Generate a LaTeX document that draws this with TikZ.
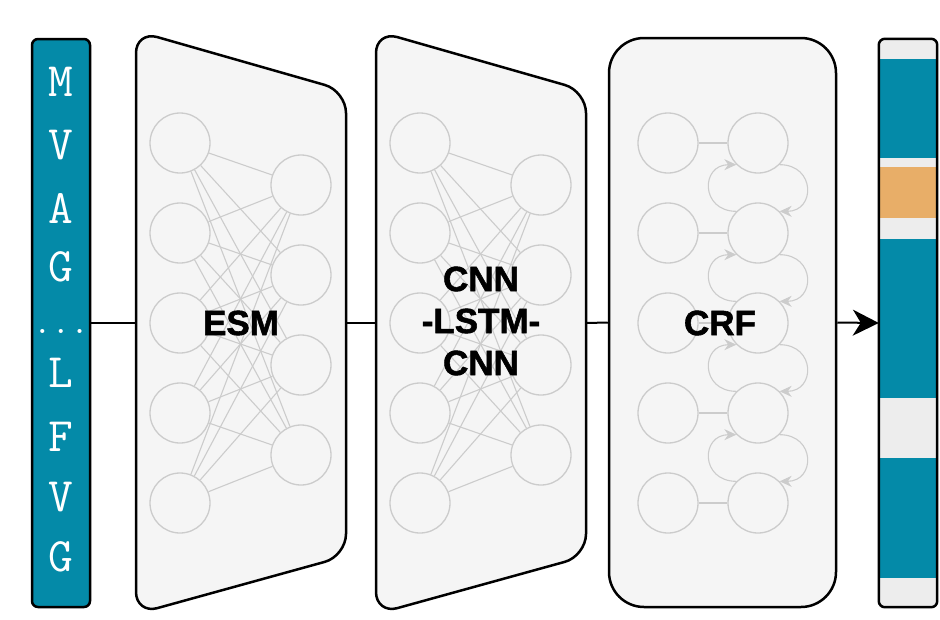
\documentclass[tikz,border=0pt]{standalone}
\usepackage{fontspec}
\newfontfamily\labelfont{Liberation Sans Bold}[FakeBold=1.6]
\usetikzlibrary{arrows.meta}
\definecolor{seqteal}{RGB}{4,138,168}
\definecolor{siteorange}{RGB}{232,174,104}
\definecolor{boxgray}{RGB}{245,245,245}
\definecolor{bargray}{RGB}{237,237,237}
\definecolor{netgray}{RGB}{204,204,204}

\begin{document}
\begin{tikzpicture}[x=1pt,y=-1pt,box/.style={draw=black,line width=2.5pt,fill=boxgray},
neuron/.style={circle,draw=netgray,line width=1.3pt,minimum size=60pt,inner sep=0pt},
syn/.style={draw=netgray,line width=1.1pt},
crfarr/.style={syn,netgray,-{Stealth[length=12pt,width=11pt]}},
link/.style={line width=2pt},
mdl/.style={font=\labelfont\fontsize{35}{42}\selectfont,align=center},
res/.style={text=white,inner sep=0pt,font=\ttfamily\fontsize{48}{48}\selectfont}]
\useasboundingbox (0,0) rectangle (940,619);
% input sequence
\node[draw,fill=seqteal,line width=2.5pt,rounded corners=6pt,minimum width=58pt,minimum height=568pt,inner sep=0pt] (seq) at (61,323) {};
\foreach \y/\ch in %
{82/M,145/V,208/A,267/G,373/L,437/F,497/V,557/G} {
   \node[res] (r\y) at (61,\y) {\ch};
}
\node[res,font=\ttfamily\fontsize{36}{36}\selectfont] (dots) at (61,331) {...};
% ESM and CNN-LSTM-CNN blocks
\draw[box,rounded corners=22pt] (136,31) -- (346,91) -- (346,556) -- (136,614) -- cycle;
\draw[box,rounded corners=22pt] (376,31) -- (586,91) -- (586,556) -- (376,614) -- cycle;
\coordinate (esmL) at (136,323);
\coordinate (esmR) at (346,323);
\coordinate (cnnL) at (376,323);
\coordinate (cnnR) at (586,323);
\foreach \nn/\dx in {e/0,n/240} {
   \foreach \i/\y in {1/143,2/233,3/323,4/413,5/503}
      \node[neuron] (\nn l\i) at (180+\dx,\y) {};
   \foreach \j/\y in {1/185,2/275,3/365,4/455}
      \node[neuron] (\nn r\j) at (301+\dx,\y) {};
   \foreach \i in {1,...,5}
      \foreach \j in {1,...,4}
         \draw[syn] (\nn l\i) -- (\nn r\j);
}
% CRF block
\node[box,rounded corners=35pt,minimum width=227pt,minimum height=569pt] (crf) at (722.5,322.5) {};
\foreach \i/\y in {1/143,2/233,3/323,4/413,5/503} {
   \node[neuron] (fl\i) at (668,\y) {};
   \node[neuron] (fr\i) at (758,\y) {};
   \draw[syn] (fl\i) -- (fr\i);
}
\foreach \i/\j in {1/2,2/3,3/4,4/5} {
   \draw[crfarr] (fr\j.135) .. controls +(-36,0) and +(-36,0) .. (fr\i.225);
   \draw[crfarr] (fr\i.-45) .. controls +(36,0) and +(36,0) .. (fr\j.45);
}
% labels
\node[mdl] (esm) at (241,323) {ESM};
\node[mdl] (cnn) at (481,321) {CNN\\-LSTM-\\CNN};
\node[mdl] (crflbl) at (720,323) {CRF};
% output labels
\node[fill=bargray,rounded corners=6pt,minimum width=58pt,minimum height=568pt,inner sep=0pt] (lbl) at (908,323) {};
\foreach \a/\b/\c in {59/158/seqteal,167/218/siteorange,239/398/seqteal,458/578/seqteal}
   \fill[\c] (879,\a) rectangle (937,\b);
\draw[line width=2.5pt,rounded corners=6pt] (lbl.north west) rectangle (lbl.south east);
% connectors
\draw[link] (seq.east) -- (esmL);
\draw[link] (esmR) -- (cnnL);
\draw[link] (cnnR) -- (crf.west);
\draw[link,-{Stealth[length=26pt,width=26pt,inset=8pt]}] (crf.east) -- (lbl.west);
\end{tikzpicture}
\end{document}
